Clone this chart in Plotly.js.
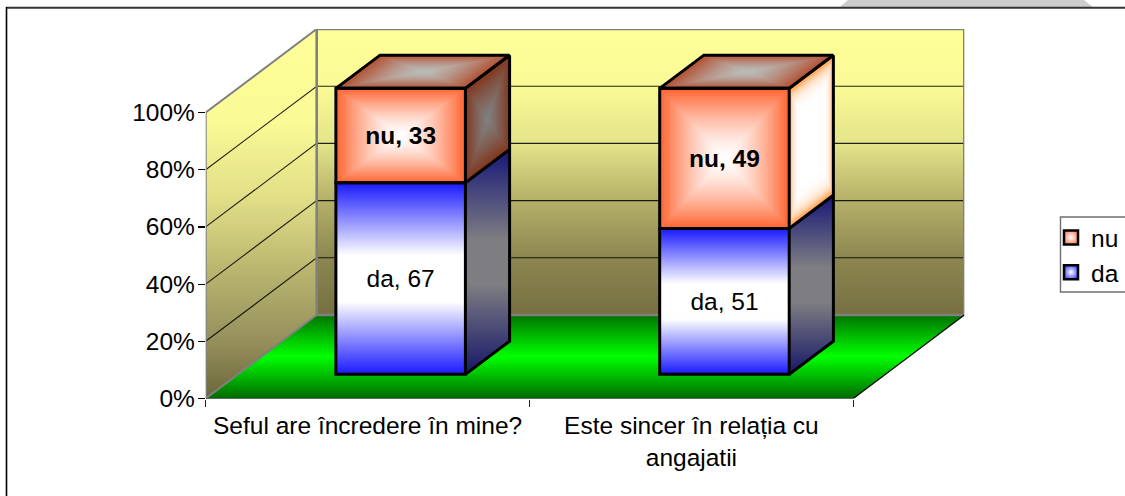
<!DOCTYPE html>
<html>
<head>
<meta charset="utf-8">
<script src="https://cdn.plot.ly/plotly-3.0.1.min.js"></script>
<style>html,body{margin:0;padding:0;background:#fff}</style>
</head>
<body>
<div id="chart" style="width:1125px;height:496px"></div>
<script>
const categories = ['Seful are încredere în mine?', 'Este sincer în relația cu<br>angajatii'];
const da = [67, 51];
const nu = [33, 49];
const yTicks = [0, 20, 40, 60, 80, 100];
const gridLevels = [20, 40, 60, 80];

// oblique projection of the Excel 3-D box, in axis units
const W = 1125, H = 496;
const left = 205.7, right = 964.7, bottom = 398.5, catPx = 323.8, pctPx = 2.86, depthX = 111, depthY = 83.5;
const zx = depthX / catPx, zy = depthY / pctPx;
const P = (c, p, z) => [c + z * zx, p + z * zy];
const zF = 0.289, zB = 0.687, half = 0.2, barShift = 0.003;

const FONT = 'Liberation Sans, Arial, sans-serif', FS = 24.5;
const traces = [];
const mix = (a, b, t) => `rgb(${a.map((v, i) => Math.round(v + (b[i] - v) * t)).join(',')})`;

function poly(pts, opt) {
  const xs = [], ys = [];
  pts.forEach(q => { xs.push(q[0]); ys.push(q[1]); });
  traces.push(Object.assign({
    type: 'scatter', mode: 'lines', x: xs, y: ys, hoverinfo: 'skip', showlegend: false, cliponaxis: false,
    line: { width: 0 }
  }, opt));
}
const closed = pts => pts.concat([pts[0]]);
const vgrad = stops => ({ type: 'vertical', colorscale: stops });

function nested(face, edge, center, power, steps) {
  steps = steps || 28;
  for (let i = 0; i < steps; i++) {
    const s = 1 - i / steps;
    const a = (1 - s) / 2, b = 1 - a;
    poly(closed([face(a, a), face(b, a), face(b, b), face(a, b)]), {
      fill: 'toself', fillcolor: mix(center, edge, Math.pow(s, power))
    });
  }
}
const outline = (pts, color, width) => poly(pts, { line: { color: color, width: width } });

// walls
const wallStops = [[0, 'rgb(118,112,66)'], [0.2, 'rgb(140,135,80)'], [0.4, 'rgb(180,176,105)'], [0.6, 'rgb(228,228,138)'], [0.8, 'rgb(250,250,150)'], [1, 'rgb(255,255,153)']];
const wallStopsL = [[0, 'rgb(108,103,58)'], [0.16, 'rgb(150,145,92)'], [0.32, 'rgb(180,176,108)'], [0.54, 'rgb(225,222,135)'], [0.75, 'rgb(250,250,150)'], [1, 'rgb(255,255,153)']];
poly(closed([P(0, 0, 1), P(2, 0, 1), P(2, 100, 1), P(0, 100, 1)]), { fill: 'toself', fillgradient: vgrad(wallStops) });
poly(closed([P(0, 0, 0), P(0, 0, 1), P(0, 100, 1), P(0, 100, 0)]), { fill: 'toself', fillgradient: vgrad(wallStopsL) });
// floor
poly(closed([P(0, 0, 0), P(2, 0, 0), P(2, 0, 1), P(0, 0, 1)]), {
  fill: 'toself',
  fillgradient: vgrad([[0, 'rgb(0,105,0)'], [0.5, 'rgb(0,255,0)'], [1, 'rgb(0,115,0)']])
});
// gridlines
gridLevels.forEach(g => {
  outline([P(0, g, 0), P(0, g, 1), P(2, g, 1)], 'rgba(0,0,0,0.85)', 1.1);
});
// wall frames
outline(closed([P(0, 0, 1), P(2, 0, 1), P(2, 100, 1), P(0, 100, 1)]), 'rgb(128,128,128)', 2.6);
outline([P(0, 0, 0), P(0, 100, 0), P(0, 100, 1)], 'rgb(128,128,128)', 2);
outline([P(0, 0, 0), P(0, 0, 1)], 'rgb(128,128,128)', 2);
outline([P(0, 0, 0), P(2, 0, 0), P(2, 0, 1)], 'rgb(0,0,0)', 1.2);

// bars
const ORANGE = [255, 102, 51], WHITE = [255, 255, 255], GRAY = [128, 128, 128];
categories.forEach((_, i) => {
  const c = i + 0.5 + barShift, xl = c - half, xr = c + half, split = da[i], top = da[i] + nu[i];
  // blue side
  poly(closed([P(xr, 0, zF), P(xr, 0, zB), P(xr, split, zB), P(xr, split, zF)]), {
    fill: 'toself',
    fillgradient: vgrad([[0, 'rgb(22,22,105)'], [0.4, 'rgb(125,125,130)'], [0.6, 'rgb(125,125,130)'], [1, 'rgb(22,22,120)']])
  });
  // blue front
  poly(closed([P(xl, 0, zF), P(xr, 0, zF), P(xr, split, zF), P(xl, split, zF)]), {
    fill: 'toself',
    fillgradient: vgrad([[0, 'rgb(25,25,255)'], [0.38, 'rgb(255,255,255)'], [0.62, 'rgb(255,255,255)'], [1, 'rgb(25,25,255)']])
  });
  // orange side
  const side = (u, v) => P(xr, split + (top - split) * v, zF + (zB - zF) * u);
  if (i === 0) nested(side, [130, 55, 30], GRAY, 1.3);
  else nested(side, [255, 150, 60], WHITE, 8);
  // top
  nested((u, v) => P(xl + (xr - xl) * u, top, zF + (zB - zF) * v), [178, 82, 52], [186, 188, 184], 1.5);
  // orange front
  nested((u, v) => P(xl + (xr - xl) * u, split + (top - split) * v, zF), ORANGE, WHITE, 1.5);
  // outlines for depth faces
  outline(closed([P(xl, top, zF), P(xr, top, zF), P(xr, top, zB), P(xl, top, zB)]), '#000', 3);
  outline([P(xr, top, zB), P(xr, 0, zB), P(xr, 0, zF)], '#000', 3);
  outline([P(xr, top, zF), P(xr, top, zB)], '#000', 3);
  outline([P(xr, split, zF), P(xr, split, zB)], '#000', 3);
});

// real bars on an overlay axis: outlines and value labels
const barX = categories.map((_, i) => P(i + 0.5 + barShift, 0, zF)[0]);
const barBase = P(0, 0, zF)[1];
const barCommon = {
  type: 'bar', xaxis: 'x2', yaxis: 'y2', x: barX, width: 2 * half, showlegend: false, hoverinfo: 'skip',
  textposition: 'inside', insidetextanchor: 'middle', textangle: 0, constraintext: 'none',
  insidetextfont: { family: FONT, size: FS, color: '#000' }
};
const hollow = { color: 'rgba(0,0,0,0)', line: { color: '#000', width: 3 } };
traces.push(Object.assign({}, barCommon, {
  name: 'da', y: da, base: da.map(() => barBase), marker: hollow, text: da.map(v => 'da, ' + v)
}));
traces.push(Object.assign({}, barCommon, {
  name: 'nu', y: nu, base: da.map(v => barBase + v), marker: hollow, text: nu.map(v => '<b>nu, ' + v + '</b>')
}));

// legend entries
const legendEntry = (name, color) => ({
  type: 'scatter', mode: 'markers', name: name, legendgroup: name, xaxis: 'x2', yaxis: 'y2',
  x: [null], y: [null], hoverinfo: 'skip',
  marker: { symbol: 'square', size: 14, color: color, line: { color: '#000', width: 2.5 }, gradient: { type: 'radial', color: '#fff' } }
});
traces.push(legendEntry('nu', 'rgb(255,140,110)'));
traces.push(legendEntry('da', 'rgb(90,90,255)'));

const xRange = [0, 2 + zx], yRange = [0, 100 + zy];
const px = x => x / W, py = y => 1 - y / H;
const xDom = [px(left), px(left + xRange[1] * catPx)];
const yDom = [py(bottom), py(bottom - yRange[1] * pctPx)];

const layout = {
  width: W, height: H, autosize: false,
  margin: { l: 0, r: 0, t: 0, b: 0, pad: 0, autoexpand: false },
  paper_bgcolor: '#fff', plot_bgcolor: 'rgba(0,0,0,0)',
  font: { family: FONT, size: FS, color: '#000' },
  barmode: 'overlay',
  xaxis: {
    domain: xDom, range: xRange, fixedrange: true, showgrid: false, zeroline: false, showline: false,
    tickmode: 'array', tickvals: [0.5, 1.5], ticktext: categories, ticks: '', ticklen: 0,
    ticklabelstandoff: 10, tickfont: { family: FONT, size: FS, color: '#000' },
    minor: { tickmode: 'array', tickvals: [0, 1, 2], ticks: 'outside', ticklen: 7, tickwidth: 1.2, tickcolor: '#222', showgrid: false }
  },
  yaxis: {
    domain: yDom, range: yRange, fixedrange: true, showgrid: false, zeroline: false, showline: false,
    tickmode: 'array', tickvals: yTicks, ticktext: yTicks.map(v => v + '%'), ticks: 'outside', ticklen: 7,
    ticklabelstandoff: -2,
    tickwidth: 1.2, tickcolor: '#000', tickfont: { family: FONT, size: FS, color: '#000' }
  },
  xaxis2: { overlaying: 'x', anchor: 'y2', range: xRange, domain: xDom, visible: false, fixedrange: true },
  yaxis2: { overlaying: 'y', anchor: 'x2', range: yRange, domain: yDom, visible: false, fixedrange: true },
  showlegend: true,
  legend: {
    x: px(1055), xanchor: 'left', y: py(215), yanchor: 'top', traceorder: 'normal',
    bgcolor: 'rgba(0,0,0,0)', borderwidth: 0, indentation: -4, tracegroupgap: 3.5,
    font: { family: FONT, size: FS, color: '#000' }
  },
  shapes: [
    { type: 'path', xref: 'paper', yref: 'paper', layer: 'below', line: { width: 0 }, fillcolor: 'rgb(204,204,204)',
      path: `M${px(840)},${py(7)} L${px(848)},${py(0)} L${px(1084)},${py(0)} L${px(1093)},${py(7)} Z` },
    { type: 'line', xref: 'paper', yref: 'paper', layer: 'below', x0: px(6), x1: px(1125), y0: py(7.7), y1: py(7.7), line: { color: '#333', width: 2 } },
    { type: 'line', xref: 'paper', yref: 'paper', layer: 'below', x0: px(6.5), x1: px(6.5), y0: py(7), y1: py(496), line: { color: '#000', width: 1.6 } },
    { type: 'rect', xref: 'paper', yref: 'paper', layer: 'below', x0: px(1060.5), x1: px(1130), y0: py(217), y1: py(292), line: { color: 'rgb(110,110,110)', width: 1.4 } }
  ]
};
Plotly.newPlot('chart', traces, layout, { displayModeBar: false, staticPlot: true });
</script>
</body>
</html>
